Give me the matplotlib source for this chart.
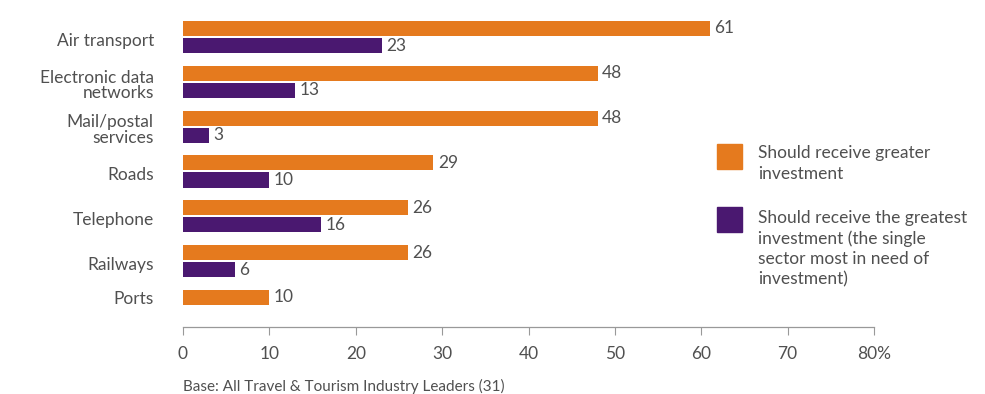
import numpy as np
import matplotlib
matplotlib.use('Agg')
import matplotlib.pyplot as plt
from matplotlib.patches import Rectangle

# --- data ---
sectors = ['Air transport', 'Electronic data\nnetworks', 'Mail/postal\nservices',
           'Roads', 'Telephone', 'Railways', 'Ports']
greater = [61, 48, 48, 29, 26, 26, 10]
greatest = [23, 13, 3, 10, 16, 6, None]
x_ticks = [0, 10, 20, 30, 40, 50, 60, 70, 80]
x_tick_labels = ['0', '10', '20', '30', '40', '50', '60', '70', '80%']
legend_labels = ['Should receive greater\ninvestment',
                 'Should receive the greatest\ninvestment (the single\nsector most in need of\ninvestment)']

orange = '#E57A1E'
purple = '#4A1870'
gray_txt = '#505050'
fs = 12.5

plt.rcParams['font.family'] = ['Lato', 'DejaVu Sans']

fig = plt.figure(figsize=(9.85, 3.94), dpi=100)
ax = fig.add_axes([183 / 985, 67 / 394, (874 - 183) / 985, 317 / 394])

pos = np.arange(len(sectors))
off = 0.19
h = 0.335

tick_pos = []
for i, (g, b) in enumerate(zip(greater, greatest)):
    ax.barh(pos[i] - off, g, height=h, color=orange)
    ax.text(g + 0.5, pos[i] - off, str(g), va='center', ha='left',
            fontsize=fs, color=gray_txt)
    if b is not None:
        ax.barh(pos[i] + off, b, height=h, color=purple)
        ax.text(b + 0.5, pos[i] + off, str(b), va='center', ha='left',
                fontsize=fs, color=gray_txt)
        tick_pos.append(pos[i] + 0.05)
    else:
        tick_pos.append(pos[i] - off)

ax.set_xlim(0, 80)
ax.set_ylim(6.469, -0.602)

ax.set_yticks(tick_pos)
ax.set_yticklabels(sectors, fontsize=fs, color=gray_txt, linespacing=0.95)
ax.tick_params(axis='y', length=0, pad=21)

ax.set_xticks(x_ticks)
ax.set_xticklabels(x_tick_labels, fontsize=fs, color=gray_txt)
ax.tick_params(axis='x', length=6, width=0.8, color='#999999', pad=8)

for s in ['top', 'right', 'left']:
    ax.spines[s].set_visible(False)
ax.spines['bottom'].set_color('#999999')
ax.spines['bottom'].set_linewidth(0.9)

# legend drawn by hand to the right of the bars
fig.patches.append(Rectangle((717 / 985, 1 - 169 / 394), 25 / 985, 25 / 394,
                             transform=fig.transFigure, color=orange))
fig.patches.append(Rectangle((717 / 985, 1 - 232 / 394), 25 / 985, 25 / 394,
                             transform=fig.transFigure, color=purple))
fig.text(758 / 985, 1 - 145 / 394, legend_labels[0], va='top', ha='left',
         fontsize=fs, color=gray_txt, linespacing=1.38)
fig.text(758 / 985, 1 - 210 / 394, legend_labels[1], va='top', ha='left',
         fontsize=fs, color=gray_txt, linespacing=1.33)

fig.text(183 / 985, 1 - 386 / 394, 'Base: All Travel & Tourism Industry Leaders (31)',
         va='center', ha='left', fontsize=11, color=gray_txt)

fig.savefig('out.png', dpi=100, facecolor='white')
